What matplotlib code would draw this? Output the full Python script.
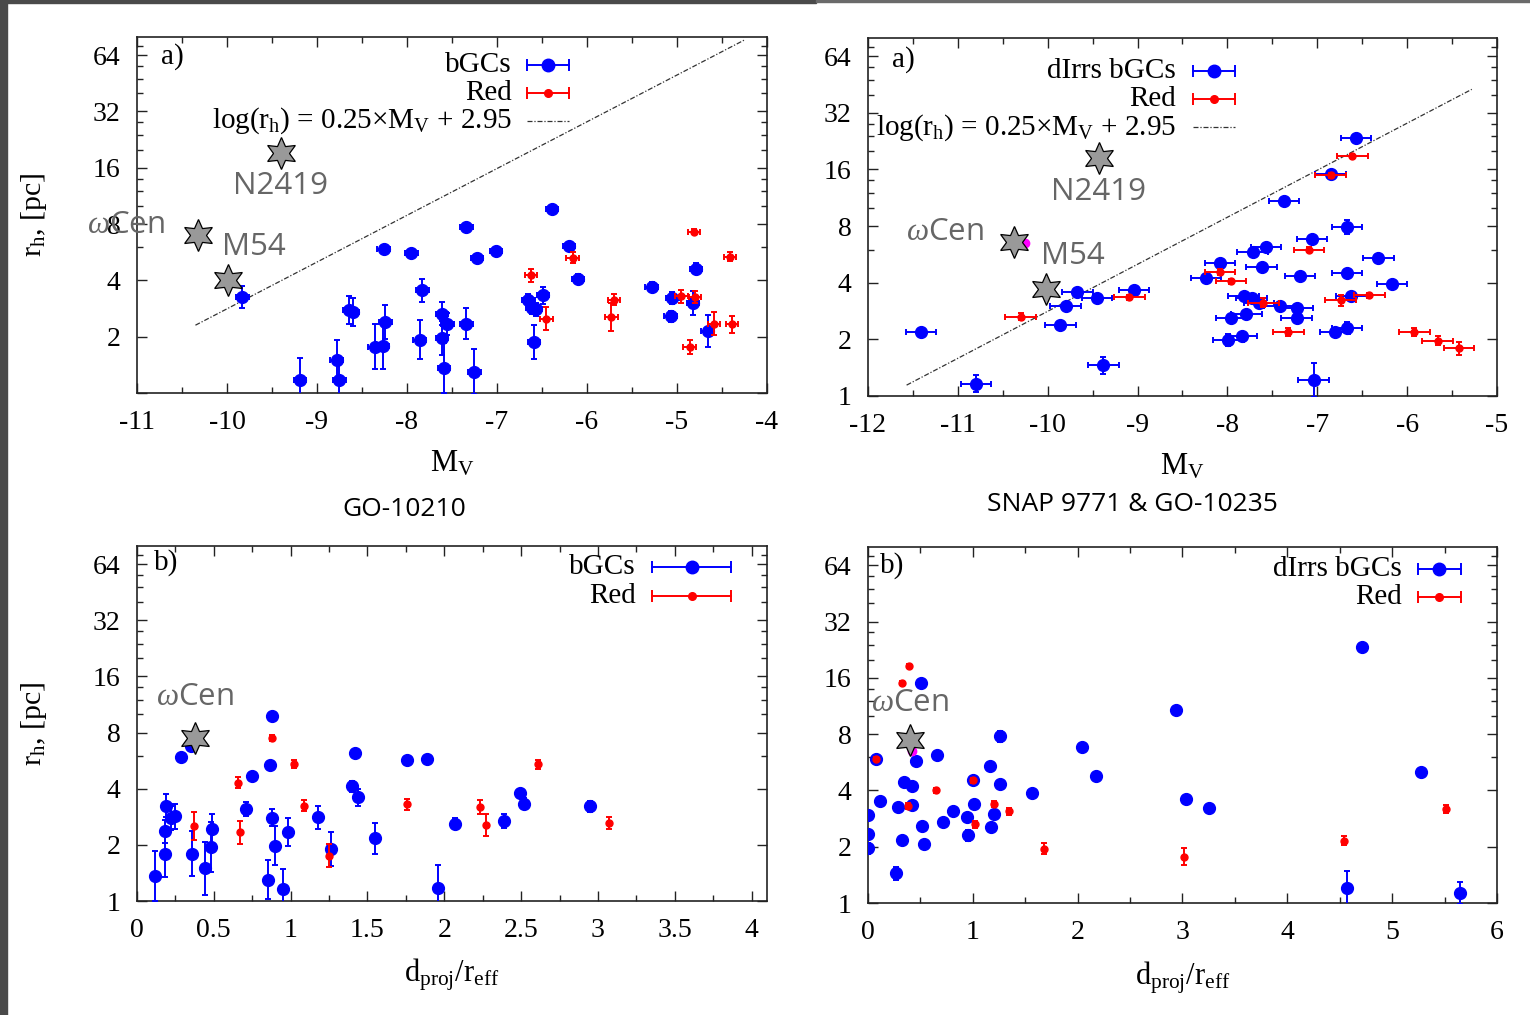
import numpy as np
import matplotlib
matplotlib.use("Agg")
import matplotlib.pyplot as plt
from matplotlib.patches import Rectangle
from matplotlib.ticker import FixedLocator, FuncFormatter, NullFormatter

plt.rcParams.update({
    "font.family": ["Liberation Serif", "DejaVu Serif"],
    "mathtext.fontset": "custom",
    "mathtext.rm": "Liberation Serif",
    "mathtext.it": "Liberation Serif:italic",
    "axes.unicode_minus": False,
})

# ---------------- data ----------------
# Panel a) GO-10210 : M_V vs r_h
p1_blue_mv = [-9.83, -9.19, -8.78, -8.75, -8.64, -8.60, -8.36, -8.27, -8.24, -8.26, -7.95, -7.86,
              -7.83, -7.61, -7.61, -7.59, -7.55, -7.34, -7.34, -7.25, -7.22, -7.01, -6.65, -6.61,
              -6.57, -6.59, -6.49, -6.39, -6.20, -6.10, -5.28, -5.07, -5.05, -4.82, -4.79, -4.66]
p1_blue_rh = [3.26, 1.17, 1.50, 1.18, 2.77, 2.70, 1.77, 1.78, 2.40, 5.90, 5.58, 1.93,
              3.54, 2.66, 1.96, 1.36, 2.34, 2.35, 7.70, 1.30, 5.30, 5.73, 3.13, 2.86,
              2.80, 1.88, 3.33, 9.60, 6.10, 4.09, 3.70, 2.57, 3.22, 3.03, 4.63, 2.15]
p1_blue_err = [0.2, 0.4, 0.35, 0.3, 0.25, 0.25, 0.4, 0.4, 0.3, 0.05, 0.07, 0.35,
               0.2, 0.2, 0.3, 0.45, 0.2, 0.28, 0.05, 0.4, 0.06, 0.07, 0.12, 0.12,
               0.12, 0.3, 0.15, 0.03, 0.07, 0.08, 0.08, 0.1, 0.1, 0.22, 0.1, 0.28]
p1_red_mv = [-6.62, -6.45, -6.16, -5.73, -5.70, -4.95, -4.80, -4.86, -4.81, -4.59, -4.41, -4.39]
p1_red_rh = [4.25, 2.50, 5.30, 2.55, 3.16, 3.29, 3.26, 1.76, 7.30, 2.35, 5.35, 2.33]
p1_red_err = [0.12, 0.2, 0.1, 0.25, 0.1, 0.12, 0.1, 0.12, 0.04, 0.2, 0.08, 0.15]
p1_mv_err = 0.07
p1_star_names = ["N2419", r"$\omega$Cen", "M54"]
p1_star_mv = [-9.40, -10.32, -9.99]
p1_star_rh = [19.2, 7.0, 4.0]
p1_line_mv = [-10.35, -4.25]

# Panel a) SNAP 9771 & GO-10235
p2_blue_mv = [-11.41, -10.80, -9.86, -9.80, -9.67, -9.45, -9.38, -9.04, -8.24, -8.08, -7.99, -7.96,
              -7.84, -7.79, -7.82, -7.72, -7.73, -7.65, -7.62, -7.57, -7.42, -7.37, -7.23, -7.22,
              -7.19, -7.06, -7.04, -6.85, -6.80, -6.67, -6.67, -6.67, -6.62, -6.57, -6.32, -6.17]
p2_blue_rh = [2.20, 1.16, 2.39, 3.00, 3.56, 3.32, 1.46, 3.64, 4.23, 5.10, 1.98, 2.60,
              2.08, 2.74, 3.41, 5.80, 3.32, 3.12, 4.83, 6.20, 3.00, 10.9, 2.60, 2.93,
              4.35, 6.80, 1.22, 15.2, 2.20, 2.31, 7.90, 4.49, 3.38, 23.6, 5.42, 3.95]
p2_blue_err = [0.05, 0.15, 0.04, 0.04, 0.04, 0.04, 0.15, 0.04, 0.04, 0.05, 0.1, 0.04,
               0.04, 0.04, 0.04, 0.04, 0.04, 0.04, 0.04, 0.04, 0.04, 0.04, 0.04, 0.04,
               0.04, 0.04, 0.3, 0.04, 0.07, 0.1, 0.12, 0.05, 0.04, 0.04, 0.04, 0.04]
p2_red_mv = [-10.30, -9.09, -8.08, -7.96, -7.60, -7.32, -7.09, -6.85, -6.74, -6.61, -6.42, -5.92, -5.66, -5.42]
p2_red_rh = [2.64, 3.34, 4.55, 4.06, 3.13, 2.20, 6.00, 14.9, 3.22, 18.9, 3.42, 2.18, 1.97, 1.79]
p2_red_err = [0.06, 0.05, 0.05, 0.04, 0.08, 0.07, 0.04, 0.04, 0.1, 0.03, 0.04, 0.07, 0.08, 0.12]
p2_mv_err = 0.17
p2_star_names = ["N2419", r"$\omega$Cen", "M54"]
p2_star_mv = [-9.43, -10.37, -10.02]
p2_star_rh = [18.3, 6.6, 3.7]
p2_line_mv = [-11.57, -5.28]
p2_wcen_mv, p2_wcen_rh = [-10.25], [6.5]

# Panel b) GO-10210 : d_proj/r_eff vs r_h
p3_blue_d = [0.12, 0.18, 0.18, 0.19, 0.22, 0.25, 0.29, 0.36, 0.35, 0.44, 0.48, 0.49, 0.71, 0.75,
             0.85, 0.865, 0.88, 0.88, 0.90, 0.95, 0.98, 1.18, 1.26, 1.40, 1.42, 1.44, 1.55,
             1.755, 1.885, 1.96, 2.07, 2.39, 2.49, 2.52, 2.95]
p3_blue_rh = [1.36, 1.79, 2.36, 3.25, 2.79, 2.84, 5.95, 1.79, 6.8, 1.50, 1.95, 2.43, 3.12, 4.66,
              1.30, 5.38, 9.8, 2.79, 1.98, 1.16, 2.35, 2.81, 1.90, 4.11, 6.23, 3.60, 2.17,
              5.70, 5.78, 1.18, 2.60, 2.68, 3.79, 3.32, 3.22]
p3_blue_err = [0.45, 0.42, 0.2, 0.2, 0.22, 0.22, 0.05, 0.4, 0.05, 0.47, 0.45, 0.27, 0.12, 0.07,
               0.35, 0.05, 0.04, 0.15, 0.35, 0.35, 0.25, 0.2, 0.3, 0.1, 0.05, 0.15, 0.28,
               0.06, 0.06, 0.4, 0.1, 0.12, 0.08, 0.1, 0.1]
p3_red_d = [0.37, 0.66, 0.67, 0.88, 1.02, 1.09, 1.25, 1.755, 2.23, 2.27, 2.61, 3.07]
p3_red_rh = [2.53, 4.30, 2.33, 7.50, 5.43, 3.25, 1.75, 3.30, 3.19, 2.55, 5.40, 2.62]
p3_red_err = [0.25, 0.1, 0.2, 0.05, 0.07, 0.1, 0.2, 0.1, 0.12, 0.2, 0.08, 0.1]
p3_star_names = [r"$\omega$Cen"]
p3_star_d = [0.38]
p3_star_rh = [7.5]

# Panel b) SNAP 9771 & GO-10235
p4_blue_d = [0.0, 0.0, 0.0, 0.08, 0.11, 0.27, 0.29, 0.32, 0.34, 0.42, 0.42, 0.46, 0.51, 0.52, 0.53,
             0.66, 0.72, 0.81, 0.94, 0.95, 1.00, 1.01, 1.16, 1.17, 1.20, 1.26, 1.26, 1.56, 2.04,
             2.18, 2.94, 3.03, 3.25, 4.57, 4.71, 5.28, 5.65]
p4_blue_rh = [1.96, 2.35, 2.94, 5.90, 3.50, 1.44, 3.27, 2.17, 4.43, 4.20, 3.34, 5.74, 15.0, 2.58, 2.07,
              6.15, 2.71, 3.11, 2.89, 2.30, 4.53, 3.37, 5.38, 2.56, 2.99, 7.80, 4.32, 3.89, 6.79,
              4.77, 10.8, 3.58, 3.23, 1.20, 23.3, 5.03, 1.13]
p4_blue_err = [0.1, 0.06, 0.04, 0.04, 0.04, 0.12, 0.04, 0.07, 0.04, 0.04, 0.04, 0.04, 0.03, 0.04, 0.04,
               0.04, 0.04, 0.04, 0.04, 0.1, 0.04, 0.05, 0.04, 0.05, 0.06, 0.1, 0.05, 0.04, 0.03,
               0.04, 0.03, 0.05, 0.05, 0.3, 0.03, 0.03, 0.2]
p4_red_d = [0.08, 0.32, 0.39, 0.38, 0.65, 1.00, 1.02, 1.20, 1.35, 1.68, 3.01, 4.54, 5.51]
p4_red_rh = [5.90, 15.0, 18.6, 3.30, 4.00, 4.53, 2.63, 3.38, 3.10, 1.95, 1.77, 2.15, 3.18]
p4_red_err = [0.04, 0.03, 0.03, 0.05, 0.04, 0.04, 0.07, 0.05, 0.06, 0.1, 0.15, 0.08, 0.07]
p4_star_names = [r"$\omega$Cen"]
p4_star_d = [0.405]
p4_star_rh = [7.4]
p4_wcen_d, p4_wcen_rh = [0.42], [6.5]

y_major = [1, 2, 4, 8, 16, 32, 64]
y_minor = [6, 10, 12, 14, 20, 24, 28, 40, 48, 56, 72]
subtitles = ["GO-10210", "SNAP 9771 & GO-10235"]

# ---------------- figure ----------------
fig = plt.figure(figsize=(15.3, 10.15), dpi=100)
fig.patch.set_facecolor("white")
fig.patches.append(Rectangle((0, 0), 7 / 1530, 1, transform=fig.transFigure, color="#4a4a4a", zorder=10))
fig.patches.append(Rectangle((0, 1 - 3 / 1015), 816 / 1530, 3 / 1015, transform=fig.transFigure, color="#4a4a4a", zorder=10))
fig.patches.append(Rectangle((816 / 1530, 1 - 2 / 1015), 1 - 816 / 1530, 2 / 1015, transform=fig.transFigure, color="#6a6a6a", zorder=10))

ax1 = fig.add_axes([0.0895, 0.6128, 0.4118, 0.3507])
ax2 = fig.add_axes([0.5673, 0.6099, 0.4111, 0.3527])
ax3 = fig.add_axes([0.0895, 0.1123, 0.4118, 0.3498])
ax4 = fig.add_axes([0.5673, 0.1103, 0.4111, 0.3507])

FS = 20
GRAY = "#666666"


def errs(rh, e):
    rh = np.asarray(rh, float)
    e = np.asarray(e, float)
    return [rh - rh * 2.0 ** (-e), rh * 2.0 ** e - rh]


def points(ax, x, rh, e, xerr, color, ms, z):
    ax.errorbar(x, rh, yerr=errs(rh, e), xerr=xerr, fmt="o", color=color, mec=color, ms=ms,
                elinewidth=1.4, capsize=2.5, capthick=1.4, zorder=z)


def stars(ax, x, rh, names, offsets):
    ax.plot(x, rh, ls="none", marker=(6, 1, 0), ms=23, mfc="#999999", mec="black", mew=0.9, zorder=6)
    for xi, yi, name, off in zip(x, rh, names, offsets):
        ax.annotate(name, (xi, yi), xytext=off, textcoords="offset points", ha="center", va="center",
                    fontsize=22.5, color=GRAY, family=["Open Sans", "DejaVu Sans"], zorder=7)


def legend(ax, xt, x0, x1, ys, labels, kinds):
    for y, lab, kind in zip(ys, labels, kinds):
        ax.text(xt, y, lab, transform=ax.transAxes, ha="right", va="center", fontsize=21, zorder=8)
        if kind == "line":
            ax.plot([x0, x1], [y, y], transform=ax.transAxes, color="#333333", lw=0.9,
                    ls=(0, (4, 1.5, 1, 1.5)), zorder=8)
        else:
            c, ms = ("blue", 9) if kind == "blue" else ("red", 5.5)
            ax.plot([x0, x1], [y, y], transform=ax.transAxes, color=c, lw=1.4, zorder=8)
            ax.plot([x0, x1], [y, y], transform=ax.transAxes, color=c, ls="none", marker="|", ms=9, mew=1.4, zorder=8)
            ax.plot([(x0 + x1) / 2], [y], transform=ax.transAxes, color=c, marker="o", ms=ms, zorder=8)


def style(ax, xlim, xmaj, xmin, ylabels_from1=True):
    ax.set_yscale("log", base=2)
    ax.set_ylim(1, 80)
    ax.set_xlim(*xlim)
    ax.yaxis.set_major_locator(FixedLocator(y_major))
    ax.yaxis.set_minor_locator(FixedLocator(y_minor))
    ax.yaxis.set_major_formatter(FuncFormatter(
        lambda v, p: ("%d" % v) if (ylabels_from1 or v > 1) else ""))
    ax.yaxis.set_minor_formatter(NullFormatter())
    ax.xaxis.set_major_locator(FixedLocator(xmaj))
    ax.xaxis.set_minor_locator(FixedLocator(xmin))
    ax.xaxis.set_major_formatter(FuncFormatter(lambda v, p: "%g" % v))
    ax.tick_params(which="both", direction="in", top=True, right=True, labelsize=FS, width=1.0, color="#222222")
    ax.tick_params(which="major", length=7)
    ax.tick_params(which="minor", length=4)
    ax.tick_params(axis="y", which="major", pad=12)
    ax.tick_params(axis="x", which="major", pad=12)
    for s in ax.spines.values():
        s.set_linewidth(1.2)
        s.set_color("#222222")


def labels(ax, panel, pxy, xlab, xly, ylab=None):
    ax.text(pxy[0], pxy[1], panel, transform=ax.transAxes, ha="center", va="center", fontsize=FS + 1)
    ax.text(0.5, xly, xlab, transform=ax.transAxes, ha="center", va="center", fontsize=FS + 2)
    if ylab:
        ax.text(-0.163, 0.5, ylab, transform=ax.transAxes, ha="center", va="center", rotation=90, fontsize=FS + 1.5)


MV = r"M$_{\rm V}$"
DL = r"d$_{\rm proj}$/r$_{\rm eff}$"
RH = r"r$_{\rm h}$, [pc]"
LINE_LAB = r"log(r$_{\rm h}$) = 0.25$\times$M$_{\rm V}$ + 2.95"

# panel 1
style(ax1, (-11, -4), np.arange(-11, -3), np.arange(-10.5, -4, 1.0), ylabels_from1=False)
mv = np.linspace(p1_line_mv[0], p1_line_mv[1], 50)
ax1.plot(mv, 10 ** (0.25 * mv + 2.95), color="#333333", lw=0.9, ls=(0, (4, 1.5, 1, 1.5)), zorder=1)
points(ax1, p1_blue_mv, p1_blue_rh, p1_blue_err, p1_mv_err, "blue", 8.5, 3)
points(ax1, p1_red_mv, p1_red_rh, p1_red_err, p1_mv_err, "red", 5, 4)
stars(ax1, p1_star_mv, p1_star_rh, p1_star_names, [(0, -24), (-52, 7), (19, 24)])
legend(ax1, 0.595, 0.619, 0.686, [0.921, 0.843, 0.764], ["bGCs", "Red", LINE_LAB], ["blue", "red", "line"])
labels(ax1, "a)", (0.057, 0.944), MV, -0.2, RH)

# panel 2
style(ax2, (-12, -5), np.arange(-12, -4), np.arange(-11.5, -5, 1.0))
mv = np.linspace(p2_line_mv[0], p2_line_mv[1], 50)
ax2.plot(mv, 10 ** (0.25 * mv + 2.95), color="#333333", lw=0.9, ls=(0, (4, 1.5, 1, 1.5)), zorder=1)
points(ax2, p2_blue_mv, p2_blue_rh, p2_blue_err, p2_mv_err, "blue", 8.5, 3)
points(ax2, p2_red_mv, p2_red_rh, p2_red_err, p2_mv_err, "red", 5, 4)
ax2.plot(p2_wcen_mv, p2_wcen_rh, "o", color="magenta", ms=6, zorder=5)
stars(ax2, p2_star_mv, p2_star_rh, p2_star_names, [(0, -24.5), (-50, 7), (19.5, 24)])
legend(ax2, 0.49, 0.517, 0.584, [0.909, 0.83, 0.75], ["dIrrs bGCs", "Red", LINE_LAB], ["blue", "red", "line"])
labels(ax2, "a)", (0.056, 0.941), MV, -0.198)

# panel 3
style(ax3, (0, 4.1), np.arange(0, 4.01, 0.5), np.arange(0.25, 4.1, 0.5))
points(ax3, p3_blue_d, p3_blue_rh, p3_blue_err, None, "blue", 8.5, 3)
points(ax3, p3_red_d, p3_red_rh, p3_red_err, None, "red", 5, 4)
stars(ax3, p3_star_d, p3_star_rh, p3_star_names, [(0, 29)])
legend(ax3, 0.792, 0.818, 0.943, [0.942, 0.859], ["bGCs", "Red"], ["blue", "red"])
labels(ax3, "b)", (0.046, 0.952), DL, -0.208, RH)

# panel 4
style(ax4, (0, 6), np.arange(0, 7), np.arange(0.5, 6, 1.0))
points(ax4, p4_blue_d, p4_blue_rh, p4_blue_err, None, "blue", 8.5, 3)
points(ax4, p4_red_d, p4_red_rh, p4_red_err, None, "red", 5, 4)
ax4.plot(p4_wcen_d, p4_wcen_rh, "o", color="magenta", ms=6, zorder=5)
stars(ax4, p4_star_d, p4_star_rh, p4_star_names, [(0, 27)])
legend(ax4, 0.849, 0.874, 0.943, [0.938, 0.859], ["dIrrs bGCs", "Red"], ["blue", "red"])
labels(ax4, "b)", (0.038, 0.947), DL, -0.21)

fig.text(404 / 1530, 1 - 509 / 1015, subtitles[0], ha="center", va="center", fontsize=19,
         family=["Open Sans", "DejaVu Sans"])
fig.text(1132 / 1530, 1 - 505 / 1015, subtitles[1], ha="center", va="center", fontsize=19,
         family=["Open Sans", "DejaVu Sans"])

fig.savefig("out.png", dpi=100, facecolor="white")
